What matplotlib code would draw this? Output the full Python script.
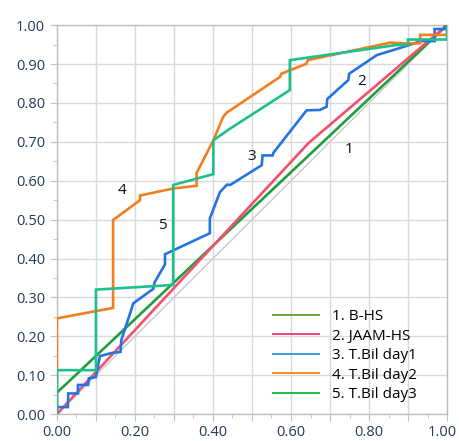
import numpy as np
import matplotlib.pyplot as plt
import matplotlib.transforms as mtransforms
from matplotlib.lines import Line2D

# curve points (x = 1-specificity, y = sensitivity)
bhs_x = [0.0, 1.0]
bhs_y = [0.055, 1.0]

jaam_x = [0.0, 0.645, 1.0]
jaam_y = [0.0, 0.697, 1.0]

day1_x = [0.0, 0.0, 0.028, 0.029, 0.054, 0.054, 0.08, 0.082, 0.10, 0.11, 0.14, 0.163, 0.165,
          0.196, 0.247, 0.25, 0.277, 0.277, 0.392, 0.392, 0.418, 0.436, 0.444, 0.525, 0.527,
          0.553, 0.555, 0.64, 0.674, 0.691, 0.693, 0.747, 0.749, 0.82, 0.888, 0.933, 0.968,
          0.968, 0.995, 0.995]
day1_y = [0.0, 0.018, 0.018, 0.053, 0.053, 0.075, 0.075, 0.092, 0.095, 0.149, 0.157, 0.16, 0.19,
          0.285, 0.322, 0.338, 0.385, 0.411, 0.465, 0.503, 0.571, 0.59, 0.589, 0.64, 0.665,
          0.665, 0.672, 0.781, 0.782, 0.79, 0.81, 0.859, 0.875, 0.923, 0.944, 0.959, 0.959,
          0.99, 0.99, 1.0]

day2_x = [0.0, 0.0, 0.144, 0.144, 0.213, 0.213, 0.298, 0.358, 0.358, 0.401, 0.426, 0.435,
          0.444, 0.572, 0.575, 0.64, 0.643, 0.854, 0.897, 0.931, 0.931, 1.0, 1.0]
day2_y = [0.0, 0.246, 0.273, 0.499, 0.55, 0.562, 0.58, 0.587, 0.62, 0.704, 0.764, 0.775,
          0.781, 0.867, 0.875, 0.901, 0.91, 0.955, 0.953, 0.953, 0.975, 0.975, 1.0]

day3_x = [0.0, 0.0, 0.10, 0.10, 0.298, 0.298, 0.401, 0.401, 0.444, 0.597, 0.597, 0.871,
          0.90, 0.90, 1.0, 1.0]
day3_y = [0.0, 0.113, 0.113, 0.32, 0.332, 0.589, 0.617, 0.704, 0.734, 0.833, 0.91, 0.949,
          0.949, 0.963, 0.963, 1.0]

names = ['1. B-HS', '2. JAAM-HS', '3. T.Bil day1', '4. T.Bil day2', '5. T.Bil day3']
line_colors = ['#1f9e3c', '#f2506c', '#2474e0', '#f27f1f', '#1cc08c']
legend_colors = ['#72a23e', '#ff3d7f', '#3d9be0', '#ff8a2a', '#1cc13c']

tags = ['1', '2', '3', '4', '5']
tag_x = [0.75, 0.78, 0.50, 0.166, 0.27]
tag_y = [0.68, 0.854, 0.661, 0.576, 0.486]

plt.rcParams['font.family'] = ['Open Sans', 'DejaVu Sans']

fig = plt.figure(figsize=(4.59, 4.41), dpi=100)
ax = fig.add_axes([0.124, 0.061, 0.850, 0.882])

ax.plot([0, 1], [0, 1], color='#c8c8c8', lw=1.0, zorder=2)
series = [(bhs_x, bhs_y), (jaam_x, jaam_y), (day1_x, day1_y), (day2_x, day2_y), (day3_x, day3_y)]
for (xs, ys), c in zip(series, line_colors):
    ax.plot(xs, ys, color=c, lw=1.9, zorder=3, solid_joinstyle='miter')

for t, tx, ty in zip(tags, tag_x, tag_y):
    ax.text(tx, ty, t, fontsize=11, color='#111111', ha='center', va='center')

ax.set_xlim(0, 1)
ax.set_ylim(0, 1)
ticks = np.round(np.arange(0, 1.01, 0.1), 2)
ax.set_xticks(ticks)
ax.set_xticklabels(['%.2f' % v if i % 2 == 0 else '' for i, v in enumerate(ticks)])
ax.set_yticks(ticks)
ax.set_yticklabels(['%.2f' % v for v in ticks])
ax.set_xticks(np.arange(0.05, 1.0, 0.1), minor=True)
ax.set_yticks(np.arange(0.05, 1.0, 0.1), minor=True)
ax.tick_params(which='both', direction='out', color='#bfbfbf', labelsize=10.5,
               labelcolor='#243a5a')
ax.tick_params(which='major', length=5)
ax.tick_params(which='minor', length=3)
ax.tick_params(axis='x', pad=3)
ax.grid(True, which='major', color='#d9d9d9', lw=1.0, zorder=0)
ax.set_axisbelow(True)
for s in ax.spines.values():
    s.set_color('#bfbfbf')
    s.set_linewidth(1.0)

# keep the last x label inside the picture
last = ax.get_xticklabels()[-1]
last.set_transform(last.get_transform() + mtransforms.ScaledTranslation(-5 / 100, 0, fig.dpi_scale_trans))

handles = [Line2D([0], [0], color=c, lw=1.4) for c in legend_colors]
ax.legend(handles, names, loc='lower left', bbox_to_anchor=(0.555, 0.03), frameon=False,
          fontsize=11, handlelength=2.95, handletextpad=0.85, labelspacing=0.3,
          borderpad=0, borderaxespad=0)

fig.savefig('out.png', dpi=100)
